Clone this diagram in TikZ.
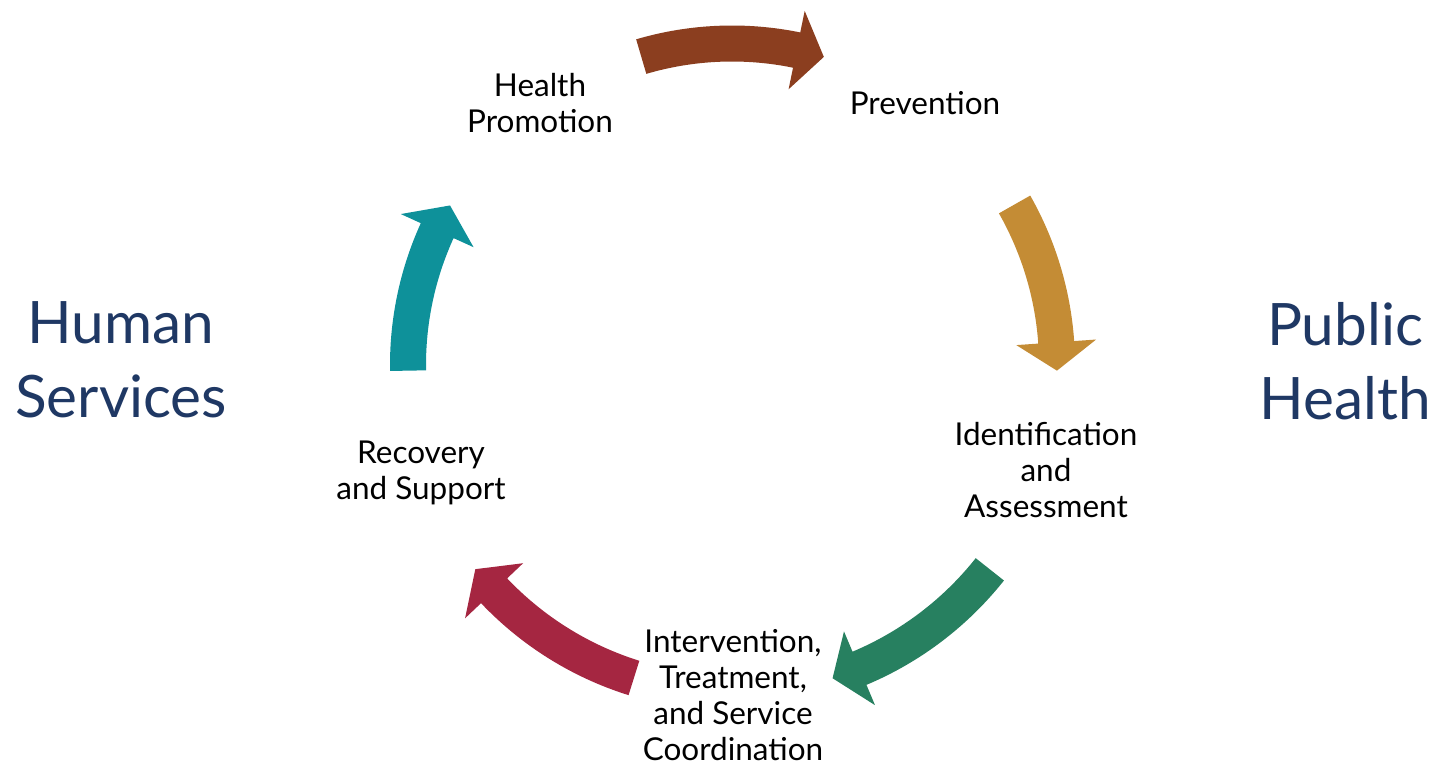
\documentclass[tikz,border=0pt]{standalone}
\usepackage{fontspec}
\setmainfont{Lato}
\definecolor{arrbrown}{RGB}{139,62,31}
\definecolor{arrgold}{RGB}{196,140,53}
\definecolor{arrgreen}{RGB}{39,128,96}
\definecolor{arrred}{RGB}{165,38,65}
\definecolor{arrteal}{RGB}{14,145,154}
\definecolor{navy}{RGB}{31,56,100}
% color, start angle, end angle, radius
\newcommand\cycarrow[4]{%
  \fill[#1] (#2:#4+18) arc[start angle=#2, end angle=#3, radius=#4+18]
    -- (#3:#4+40) -- (#3-5:#4) -- (#3:#4-40) -- (#3:#4-18)
    arc[start angle=#3, end angle=#2, radius=#4-18] -- cycle;}
\begin{document}
\begin{tikzpicture}[x=1pt,y=1pt,
  lbl/.style={font=\fontsize{31.5}{36}\selectfont, align=center, inner sep=0pt, text=black},
  big/.style={font=\fontsize{58.5}{74}\selectfont, align=center, inner sep=0pt, text=navy}]
\useasboundingbox (0,0) rectangle (1434,765);
\coordinate (C) at (732,400);
\begin{scope}[shift={(C)}]
  \cycarrow{arrteal}{181}{155.5}{324}
  \cycarrow{arrbrown}{106.4}{78.4}{321.5}
  \cycarrow{arrgold}{29.6}{4}{325}
  \cycarrow{arrgreen}{-38.4}{-67.2}{329}
  \cycarrow{arrred}{-107.4}{-136.5}{328}
\end{scope}
\node[lbl] (hp) at (540,662) {Health\\Promotion};
\node[lbl] (pv) at (925,662) {Prevention};
\node[lbl] (ia) at (1046,295) {Identification\\and\\Assessment};
\node[lbl] (it) at (733,70) {Intervention,\\Treatment,\\and Service\\Coordination};
\node[lbl] (rs) at (421,292.5) {Recovery\\and Support};
\node[big] (hs) at (121,405) {Human\\Services};
\node[big] (ph) at (1345,404) {Public\\Health};
\end{tikzpicture}
\end{document}
